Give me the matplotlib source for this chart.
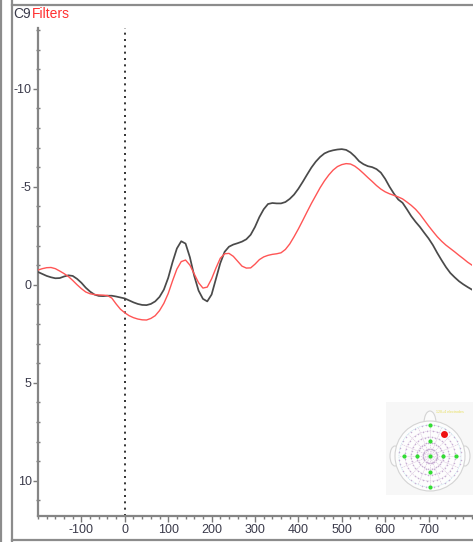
import numpy as np
import matplotlib
matplotlib.use("Agg")
import matplotlib.pyplot as plt
from matplotlib.patches import Circle, Rectangle, Ellipse
from matplotlib.ticker import MultipleLocator

plt.rcParams['font.family'] = ['Liberation Sans Narrow', 'Liberation Sans', 'DejaVu Sans']

# Time axis (ms), 10 ms sampling
time_ms = np.arange(-200, 801, 10)

# Channel C9 amplitude (µV, negative plotted upward)
c9 = [-0.65, -0.55, -0.45, -0.38, -0.33, -0.34, -0.42, -0.48, -0.45, -0.30,
      -0.10, 0.15, 0.35, 0.50, 0.57, 0.58, 0.56, 0.56, 0.60, 0.65,
      0.70, 0.80, 0.90, 0.98, 1.03, 1.04, 0.98, 0.85, 0.62, 0.25,
      -0.35, -1.15, -1.85, -2.22, -2.10, -1.40, -0.45, 0.30, 0.72, 0.85,
      0.50, -0.30, -1.10, -1.68, -1.94, -2.05, -2.12, -2.20, -2.32, -2.55,
      -2.95, -3.45, -3.85, -4.12, -4.17, -4.15, -4.15, -4.22, -4.38, -4.60,
      -4.90, -5.25, -5.62, -5.98, -6.28, -6.52, -6.70, -6.80, -6.86, -6.90,
      -6.92, -6.88, -6.75, -6.55, -6.30, -6.15, -6.05, -6.00, -5.90, -5.72,
      -5.40, -5.00, -4.65, -4.35, -4.18, -3.85, -3.50, -3.21, -2.95, -2.65,
      -2.36, -2.02, -1.62, -1.25, -0.90, -0.60, -0.38, -0.18, -0.02, 0.12,
      0.25]

# Same channel after filtering
filtered = [-0.75, -0.82, -0.87, -0.88, -0.82, -0.70, -0.57, -0.42, -0.22, 0.00,
            0.20, 0.37, 0.46, 0.50, 0.52, 0.53, 0.55, 0.68, 0.98, 1.25,
            1.43, 1.58, 1.68, 1.75, 1.79, 1.80, 1.72, 1.58, 1.32, 0.95,
            0.45, -0.20, -0.80, -1.18, -1.26, -1.00, -0.55, -0.10, 0.17, 0.12,
            -0.30, -0.85, -1.35, -1.58, -1.60, -1.45, -1.20, -0.95, -0.85, -0.86,
            -1.05, -1.28, -1.42, -1.50, -1.55, -1.58, -1.63, -1.80, -2.08, -2.45,
            -2.85, -3.28, -3.72, -4.15, -4.55, -4.95, -5.30, -5.60, -5.85, -6.03,
            -6.13, -6.18, -6.16, -6.05, -5.88, -5.68, -5.47, -5.27, -5.06, -4.88,
            -4.74, -4.64, -4.56, -4.48, -4.38, -4.22, -4.05, -3.85, -3.60, -3.30,
            -3.00, -2.72, -2.45, -2.22, -2.02, -1.85, -1.68, -1.50, -1.33, -1.15,
            -1.00]

x_ticks = [-100, 0, 100, 200, 300, 400, 500, 600, 700]
y_ticks = [-10, -5, 0, 5, 10]

W, H = 473, 542
fig = plt.figure(figsize=(W / 100, H / 100), dpi=100)
fig.patch.set_facecolor('white')

# Window frame lines
frame_col = '#8c8c8c'
def fx(px):
    return px / W
def fy(py):
    return 1 - py / H
for xp in (0.8, 11.5):
    fig.add_artist(plt.Line2D([fx(xp), fx(xp)], [fy(0), fy(H)], color=frame_col, lw=1.6))
fig.add_artist(plt.Line2D([fx(11.5), 1], [fy(4.5), fy(4.5)], color=frame_col, lw=1.6))
fig.add_artist(plt.Line2D([fx(11.5), 1], [fy(539.5), fy(539.5)], color=frame_col, lw=1.6))

# Main axes
ax_l, ax_r, ax_t, ax_b = 38, 472, 28, 516
ax = fig.add_axes([fx(ax_l), fy(ax_b), (ax_r - ax_l) / W, (ax_b - ax_t) / H])
ax.set_xlim(-200, 800)
ax.set_ylim(11.8, -13.1)

ax.plot(time_ms, c9, color='#4a4a4a', lw=1.25, zorder=3, solid_joinstyle='round')
ax.plot(time_ms, filtered, color='#ff5555', lw=1.0, zorder=3, solid_joinstyle='round')
ax.axvline(0, color='#111111', lw=1.2, linestyle=(0, (1.2, 2.6)), zorder=2)

for s in ('top', 'right'):
    ax.spines[s].set_visible(False)
for s in ('left', 'bottom'):
    ax.spines[s].set_color('#858585')
    ax.spines[s].set_linewidth(1.6)

ax.set_xticks(x_ticks)
ax.set_yticks(y_ticks)
ax.set_xticklabels([str(v) for v in x_ticks])
ax.set_yticklabels([str(v) for v in y_ticks])
ax.xaxis.set_minor_locator(MultipleLocator(20))
ax.yaxis.set_minor_locator(MultipleLocator(1))
lab_col = '#3a3a4a'
ax.tick_params(axis='both', which='major', length=4, width=1, color='#7a7a7a',
               labelsize=9, labelcolor=lab_col, pad=1.5)
ax.tick_params(axis='y', which='major', pad=1.0, length=3.5)
ax.tick_params(axis='both', which='minor', length=2.5, width=1, color='#7a7a7a')
ax.tick_params(axis='x', which='both', direction='out')
ax.tick_params(axis='y', which='major', direction='out')
ax.tick_params(axis='y', which='minor', direction='inout', length=3)

# Channel title: "C9" followed directly by the red "Filters"
t_c9 = fig.text(fx(13), fy(21), 'C9', color='#3a3a4a', fontsize=10, va='bottom', ha='left')
ax.annotate('Filters', xy=(1, 0), xycoords=t_c9, xytext=(1, 0), textcoords='offset points',
            color='#ff3030', fontsize=10, va='bottom', ha='left', annotation_clip=False)

# Electrode map inset (drawn in pixel units)
ix0, ix1, iy0, iy1 = 386, 473, 402, 495
iax = fig.add_axes([fx(ix0), fy(iy1), (ix1 - ix0) / W, (iy1 - iy0) / H])
iax.set_xlim(ix0, ix1)
iax.set_ylim(iy1, iy0)
iax.axis('off')
iax.add_patch(Rectangle((ix0, iy0), ix1 - ix0, iy1 - iy0, color='#f7f7f7', lw=0, zorder=0))

cx, cy, R = 430, 456, 35
# nose and ears
iax.add_patch(Ellipse((cx, cy - R + 2), 12, 24, fc='#fbfbfb', ec='#d4d4d4', lw=0.8, zorder=1))
iax.add_patch(Ellipse((cx - R, cy), 10, 20, fc='#fbfbfb', ec='#d4d4d4', lw=0.8, zorder=1))
iax.add_patch(Ellipse((cx + R, cy), 10, 20, fc='#fbfbfb', ec='#d4d4d4', lw=0.8, zorder=1))
iax.add_patch(Circle((cx, cy), R, fc='#fdfdfd', ec='#d4d4d4', lw=0.8, zorder=2))
for r, c in ((31, '#c4e4ee'), (25, '#e0d0e4'), (19, '#e0d0e4'), (13, '#e0d0e4'), (7, '#e0d0e4')):
    iax.add_patch(Circle((cx, cy), r, fill=False, ec=c, lw=0.5, ls=(0, (2, 1)), zorder=3))
for k in range(16):
    a = np.pi * k / 8
    iax.plot([cx, cx + 31 * np.cos(a)], [cy, cy + 31 * np.sin(a)],
             color='#dcc8e0', lw=0.5, ls=(0, (2, 1)), zorder=3)
    for r in (7, 13, 19, 25, 31):
        for off in (-0.12, 0.12):
            iax.plot(cx + r * np.cos(a + off), cy + r * np.sin(a + off), 'o',
                     ms=1.1, color='#c8b0d4', mec='none', zorder=4)
gx = [cx, cx, cx, cx, cx, cx - 26, cx - 13, cx + 13, cx + 26]
gy = [cy - 31, cy - 15, cy, cy + 16, cy + 31, cy, cy, cy, cy]
iax.plot(gx, gy, 'o', ms=3.0, color='#33dd33', mec='none', zorder=5)
iax.plot([444], [434], 'o', ms=5, color='#ee1111', mec='none', zorder=6)
iax.text(436, 412, '128+4 electrodes', fontsize=2.6, color='#e8e060', va='center', ha='left', zorder=6)

fig.savefig('out.png', dpi=100, facecolor='white')
